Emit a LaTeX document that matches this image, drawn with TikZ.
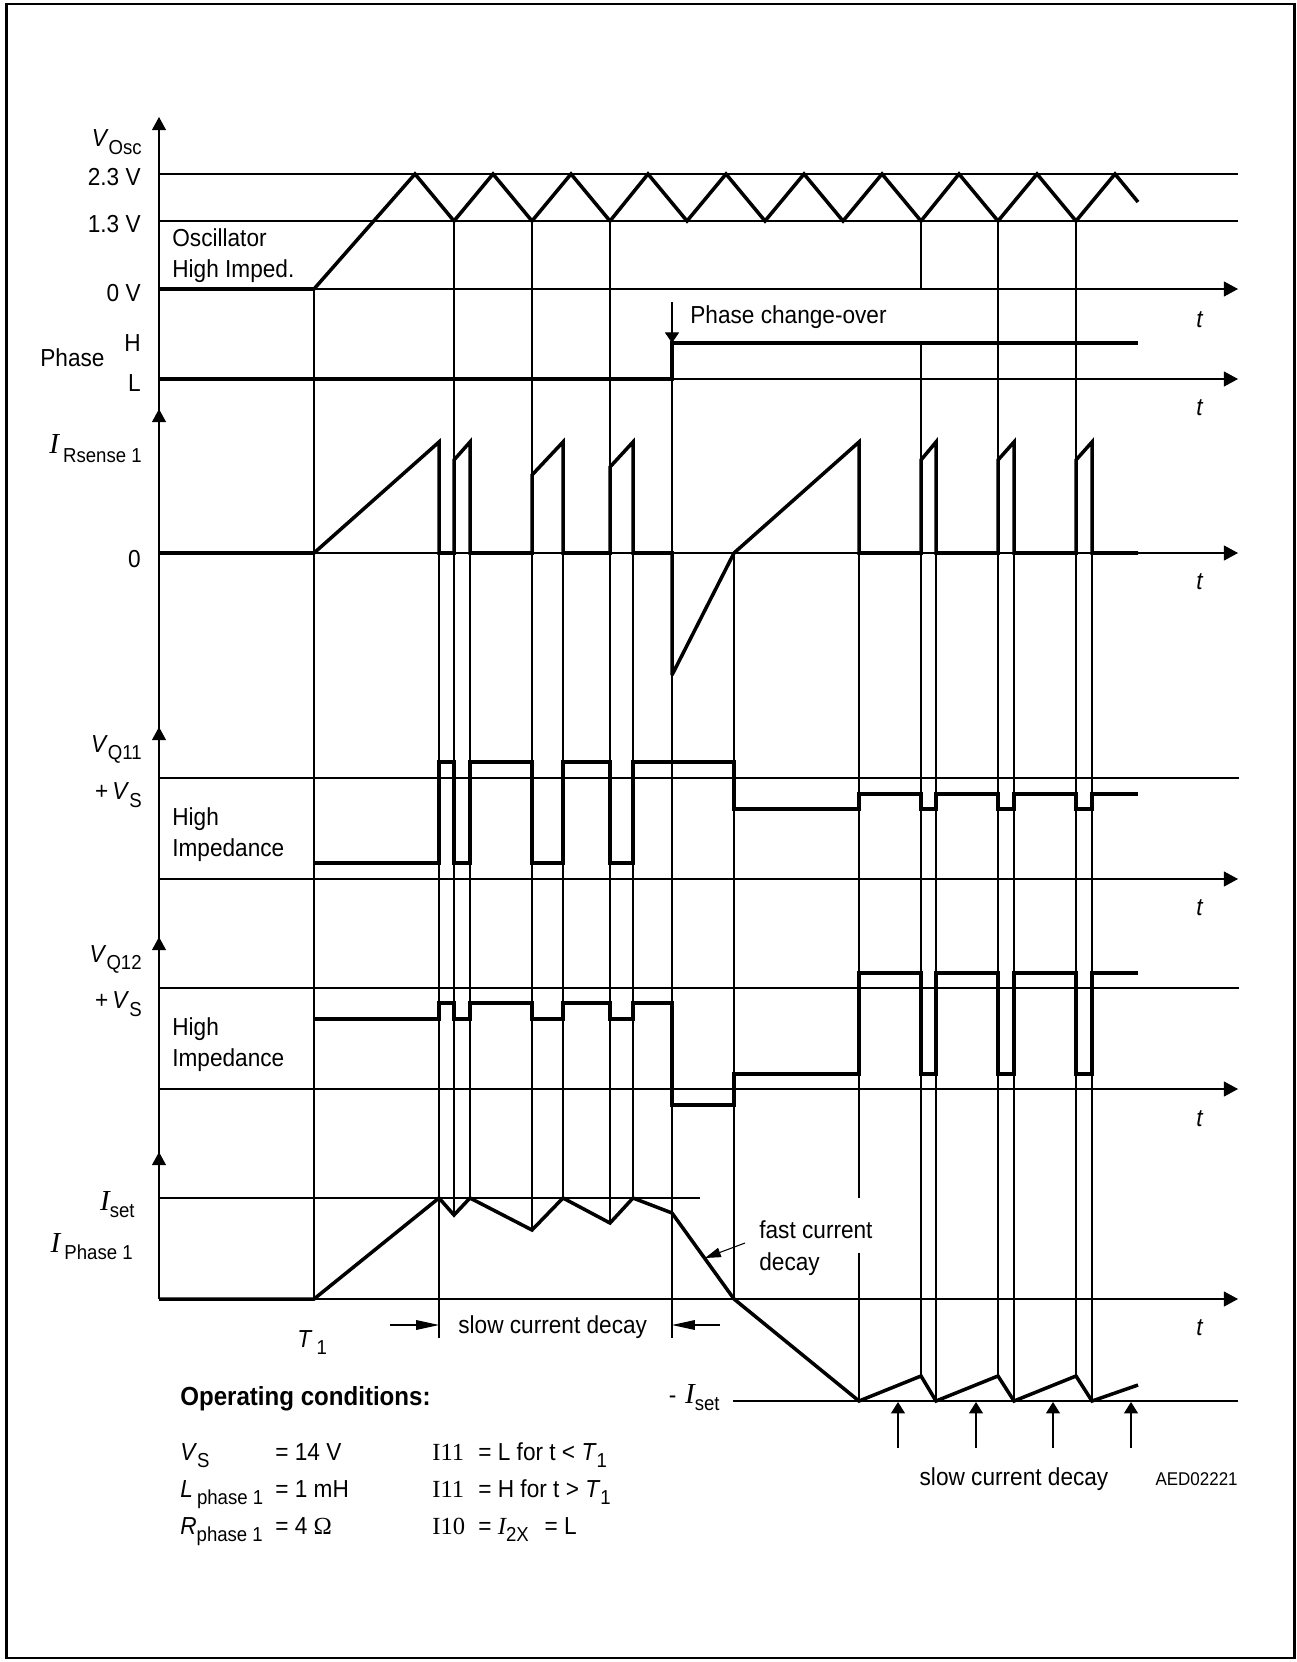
\documentclass[tikz,border=0pt]{standalone}
\usepackage{fontspec}
\setmainfont{Liberation Sans}[FakeStretch=0.92]
\newfontfamily\tnr{Liberation Serif}
\usetikzlibrary{arrows.meta}
\newcommand\vsub[2][4.5pt]{\raisebox{-#1}{\fontsize{11.5}{12}\selectfont #2}}
\newcommand\tI{{\tnr\itshape\fontsize{16.5}{18}\selectfont I}}
\begin{document}
\begin{tikzpicture}[x=0.02cm,y=-0.02cm,
  thinl/.style={line width=0.6pt},
  wave/.style={line width=2pt,line join=miter,miter limit=4},
  axis/.style={line width=0.6pt,-{Triangle[length=8pt,width=8.5pt]}},
  yax/.style={line width=0.6pt,-{Triangle[length=7.5pt,width=8pt]}},
  lbl/.style={inner sep=0pt,font=\fontsize{14}{16}\selectfont},
  upar/.style={line width=0.6pt,-{Triangle[length=6.5pt,width=8pt]}},
  longar/.style={line width=0.6pt,-{Triangle[length=13pt,width=5.5pt]}}]
\useasboundingbox (0,0) rectangle (1297,1662);
\draw[line width=1.5pt] (6.5,4) rectangle (1294.5,1658);

% ---------- vertical axis ----------
\draw[thinl] (159,1299) -- (159,125);
\draw[yax] (159,140) -- (159,117);
\draw[yax] (159,430) -- (159,409);
\draw[yax] (159,750) -- (159,727);
\draw[yax] (159,960) -- (159,937);
\draw[yax] (159,1175) -- (159,1152);

% ---------- horizontal reference lines ----------
\draw[thinl] (159,174) -- (1238,174);
\draw[thinl] (159,221) -- (1238,221);
\draw[thinl] (159,778) -- (1239,778);
\draw[thinl] (159,988) -- (1239,988);
\draw[thinl] (159,1198) -- (700,1198);
\draw[thinl] (733,1401) -- (1238,1401);
\foreach \yy in {289,379,553,879,1089,1299}
  \draw[axis] (159,\yy) -- (1238,\yy);

% ---------- vertical grid lines ----------
\draw[thinl] (314,289) -- (314,1299);
\draw[thinl] (439,553) -- (439,1338);
\draw[thinl] (454,221) -- (454,1215);
\draw[thinl] (470,553) -- (470,1198);
\draw[thinl] (532,221) -- (532,1230);
\draw[thinl] (563,553) -- (563,1198);
\draw[thinl] (610,221) -- (610,1223);
\draw[thinl] (633,553) -- (633,1198);
\draw[thinl] (672,302) -- (672,1338);
\draw[thinl] (734,553) -- (734,1299);
\draw[thinl] (859,553) -- (859,1198);
\draw[thinl] (859,1253) -- (859,1401);
\draw[thinl] (921,221) -- (921,289);
\draw[thinl] (921,343) -- (921,1376);
\draw[thinl] (936,553) -- (936,1401);
\draw[thinl] (998,221) -- (998,1376);
\draw[thinl] (1014,553) -- (1014,1401);
\draw[thinl] (1076,221) -- (1076,1376);
\draw[thinl] (1092,553) -- (1092,1401);

% phase change-over arrow
\draw[line width=0.6pt,-{Triangle[length=6pt,width=8pt]}] (672,302) -- (672,343);

% ---------- waveforms ----------
% oscillator
\draw[wave] (159,289) -- (314,289) -- (415,174) -- (454,221) -- (493,174) -- (532,221)
  -- (571,174) -- (610,221) -- (648,174) -- (687,221) -- (726,174) -- (765,221)
  -- (804,174) -- (843,221) -- (882,174) -- (921,221) -- (959,174) -- (998,221)
  -- (1037,174) -- (1076,221) -- (1115,174) -- (1138,202);
% phase
\draw[wave] (159,379) -- (672,379) -- (672,343) -- (1138,343);
% I Rsense
\draw[wave] (159,553) -- (314,553) -- (439,442) -- (439,553) -- (454,553) -- (454,460)
  -- (470,442) -- (470,553) -- (532,553) -- (532,475) -- (563,442) -- (563,553)
  -- (610,553) -- (610,467) -- (633,442) -- (633,553) -- (672,553) -- (672,675)
  -- (734,553) -- (859,442) -- (859,553) -- (921,553) -- (921,460) -- (936,442)
  -- (936,553) -- (998,553) -- (998,460) -- (1014,442) -- (1014,553) -- (1076,553)
  -- (1076,460) -- (1092,442) -- (1092,553) -- (1138,553);
% V Q11
\draw[wave] (314,863) -- (439,863) -- (439,762) -- (454,762) -- (454,863) -- (470,863)
  -- (470,762) -- (532,762) -- (532,863) -- (563,863) -- (563,762) -- (610,762)
  -- (610,863) -- (633,863) -- (633,762) -- (734,762) -- (734,809) -- (859,809)
  -- (859,794) -- (921,794) -- (921,809) -- (936,809) -- (936,794) -- (998,794)
  -- (998,809) -- (1014,809) -- (1014,794) -- (1076,794) -- (1076,809) -- (1092,809)
  -- (1092,794) -- (1138,794);
% V Q12
\draw[wave] (314,1019) -- (439,1019) -- (439,1003) -- (454,1003) -- (454,1019) -- (470,1019)
  -- (470,1003) -- (532,1003) -- (532,1019) -- (563,1019) -- (563,1003) -- (610,1003)
  -- (610,1019) -- (633,1019) -- (633,1003) -- (672,1003) -- (672,1105) -- (734,1105)
  -- (734,1074) -- (859,1074) -- (859,973) -- (921,973) -- (921,1074) -- (936,1074)
  -- (936,973) -- (998,973) -- (998,1074) -- (1014,1074) -- (1014,973) -- (1076,973)
  -- (1076,1074) -- (1092,1074) -- (1092,973) -- (1138,973);
% I Phase 1
\draw[wave] (159,1299) -- (314,1299) -- (439,1198) -- (454,1215) -- (470,1198) -- (532,1230)
  -- (563,1198) -- (610,1223) -- (633,1198) -- (672,1213) -- (734,1299) -- (859,1401)
  -- (921,1376) -- (936,1401) -- (998,1376) -- (1014,1401) -- (1076,1376) -- (1092,1401)
  -- (1138,1385);

% ---------- annotation arrows ----------
\draw[longar] (390,1325) -- (439,1325);
\draw[longar] (720,1325) -- (672,1325);
\draw[line width=0.6pt,-{Triangle[length=9pt,width=5.5pt]}] (745,1243) -- (705,1258);
\foreach \xx in {898,976,1053,1131}
  \draw[upar] (\xx,1448) -- (\xx,1402);

% ---------- labels ----------
\node[lbl,anchor=base east] (lvosc) at (142,147) {\textit{V}\vsub{Osc}};
\node[lbl,anchor=base east] (l23) at (141,186) {2.3 V};
\node[lbl,anchor=base east] (l13) at (141,233) {1.3 V};
\node[lbl,anchor=base east] (l0v) at (141,301) {0 V};
\node[lbl,anchor=base west] (losc) at (172,247) {Oscillator};
\node[lbl,anchor=base west] (lhimp) at (172,277) {High Imped.};
\node[lbl,anchor=base west] (lphase) at (40,366) {Phase};
\node[lbl,anchor=base east] (lH) at (141,351) {H};
\node[lbl,anchor=base east] (lL) at (141,391) {L};
\node[lbl,anchor=base west] (lpco) at (690,323) {Phase change-over};
\foreach \yy/\nm in {328/t1,415/t2,589/t3,915/t4,1126/t5,1335/t6}
  \node[lbl,anchor=base] (\nm) at (1200,\yy) {\textit{t}};

\node[lbl,anchor=base east] (lirs) at (142,453) {\tI\,\vsub[5.5pt]{Rsense 1}};
\node[lbl,anchor=base east] (lzero) at (141,567) {0};

\node[lbl,anchor=base east] (lvq11) at (142,752) {\textit{V}\vsub[4pt]{Q11}};
\node[lbl,anchor=base east] (lvs1) at (142,799) {+\,\textit{V}\vsub[5pt]{S}};
\node[lbl,anchor=base west] (lhigh1) at (172,825) {High};
\node[lbl,anchor=base west] (limp1) at (172,856) {Impedance};

\node[lbl,anchor=base east] (lvq12) at (142,962) {\textit{V}\vsub[4pt]{Q12}};
\node[lbl,anchor=base east] (lvs2) at (142,1008) {+\,\textit{V}\vsub[5pt]{S}};
\node[lbl,anchor=base west] (lhigh2) at (172,1035) {High};
\node[lbl,anchor=base west] (limp2) at (172,1066) {Impedance};

\node[lbl,anchor=base east] (liset) at (135,1210) {\tI\vsub[4pt]{set}};
\node[lbl,anchor=base east] (liph) at (133,1252) {\tI\,\vsub[4pt]{Phase 1}};
\node[lbl,anchor=base west] (lT1) at (297,1347) {\textit{T}\,\vsub[4pt]{1}};
\node[lbl,anchor=base west] (lslow1) at (458,1333) {slow current decay};
\node[lbl,anchor=base west] (lfast1) at (759,1238) {fast current};
\node[lbl,anchor=base west] (lfast2) at (759,1270) {decay};
\node[lbl,anchor=base east] (lmiset) at (720,1403) {-\hspace{5pt}\tI\vsub[4pt]{set}};
\node[lbl,anchor=base] (lslow2) at (1014,1485) {slow current decay};

\node[lbl,anchor=base west,font=\fontsize{14.9}{17}\selectfont\bfseries] (lop) at (180,1405) {Operating conditions:};
\node[lbl,anchor=base west] (lc1a) at (180,1460) {\textit{V}\vsub[4pt]{S}};
\node[lbl,anchor=base west] (lc1b) at (275,1460) {= 14 V};
\node[lbl,anchor=base west] (lc2a) at (180,1497) {\textit{L}\,\vsub[4pt]{phase 1}};
\node[lbl,anchor=base west] (lc2b) at (275,1497) {= 1 mH};
\node[lbl,anchor=base west] (lc3a) at (180,1534) {\textit{R}\vsub[4pt]{phase 1}};
\node[lbl,anchor=base west] (lc3b) at (275,1534) {= 4 {\tnr Ω}};
\node[lbl,anchor=base west] (lc4a) at (432,1460) {{\tnr I11}};
\node[lbl,anchor=base west] (lc4b) at (478,1460) {= L for t < \textit{T}\vsub[4pt]{1}};
\node[lbl,anchor=base west] (lc5a) at (432,1497) {{\tnr I11}};
\node[lbl,anchor=base west] (lc5b) at (478,1497) {= H for t > \textit{T}\vsub[4pt]{1}};
\node[lbl,anchor=base west] (lc6a) at (432,1534) {{\tnr I10}};
\node[lbl,anchor=base west] (lc6b) at (478,1534) {= {\tnr\itshape I}\vsub[4pt]{2X}\hspace{9pt}= L};
\node[inner sep=0pt,font=\fontsize{10.5}{12}\selectfont,anchor=base east] (lid) at (1238,1485) {AED02221};
\end{tikzpicture}
\end{document}
